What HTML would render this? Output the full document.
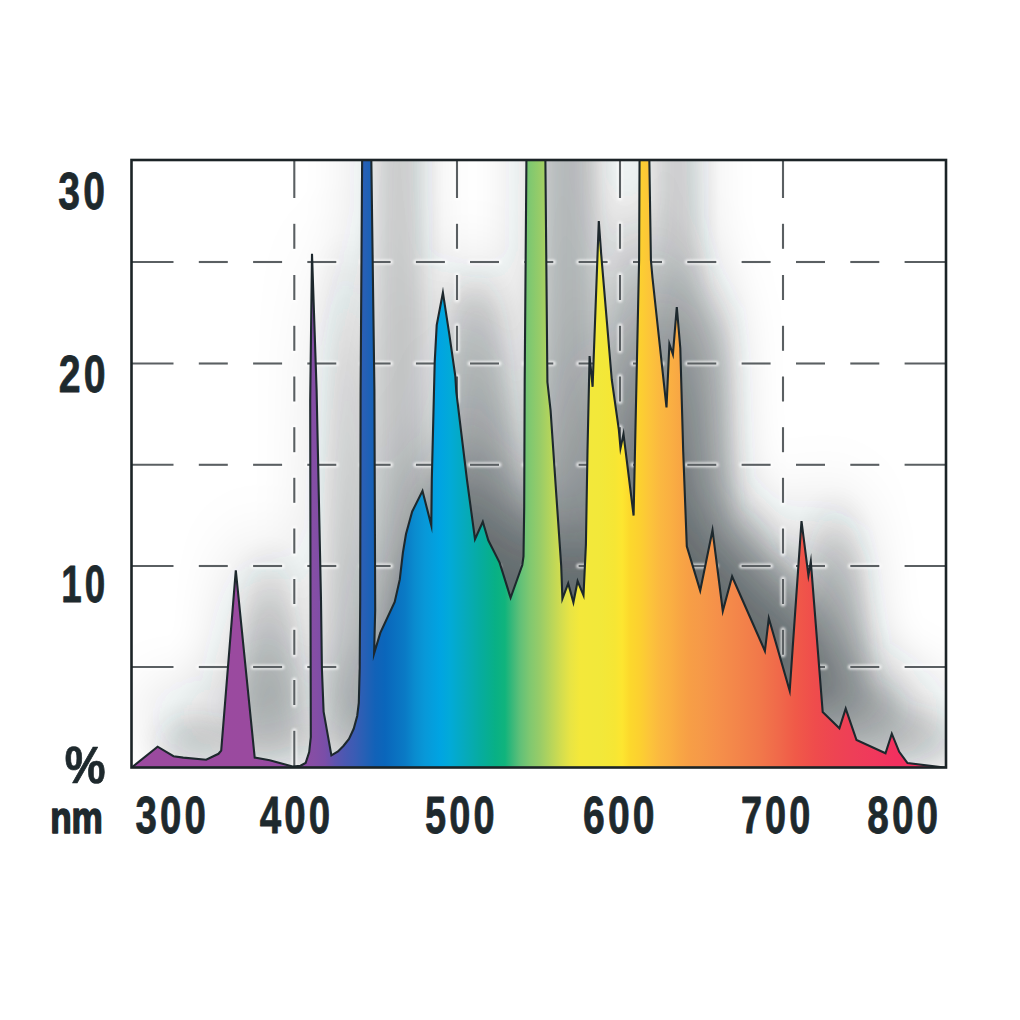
<!DOCTYPE html>
<html><head><meta charset="utf-8"><style>
html,body{margin:0;padding:0;background:#fff;}
body{width:1020px;height:1020px;overflow:hidden;}
svg{display:block;}
text{font-family:"Liberation Sans",sans-serif;font-weight:bold;fill:#1e292d;}
</style></head><body>
<svg width="1020" height="1020" viewBox="0 0 1020 1020">
<defs>
<linearGradient id="spec" gradientUnits="userSpaceOnUse" x1="131" y1="0" x2="946" y2="0">
<stop offset="0.0000" stop-color="#9b4a9f"/>
<stop offset="0.1460" stop-color="#9a4a9f"/>
<stop offset="0.2074" stop-color="#8e4ca3"/>
<stop offset="0.2258" stop-color="#844ea5"/>
<stop offset="0.2380" stop-color="#7a4ea8"/>
<stop offset="0.2503" stop-color="#5e54ae"/>
<stop offset="0.2626" stop-color="#4a58b2"/>
<stop offset="0.2748" stop-color="#3a5cb4"/>
<stop offset="0.2871" stop-color="#2660b5"/>
<stop offset="0.2994" stop-color="#1262b8"/>
<stop offset="0.3117" stop-color="#0a66bb"/>
<stop offset="0.3239" stop-color="#0a70c0"/>
<stop offset="0.3362" stop-color="#0a7ac5"/>
<stop offset="0.3485" stop-color="#0a8ccf"/>
<stop offset="0.3607" stop-color="#0898d8"/>
<stop offset="0.3791" stop-color="#00a4e2"/>
<stop offset="0.3914" stop-color="#02aad8"/>
<stop offset="0.4098" stop-color="#06aabc"/>
<stop offset="0.4282" stop-color="#06aca0"/>
<stop offset="0.4466" stop-color="#08b086"/>
<stop offset="0.4589" stop-color="#10b47c"/>
<stop offset="0.4675" stop-color="#38b87a"/>
<stop offset="0.4773" stop-color="#60c078"/>
<stop offset="0.4896" stop-color="#80c870"/>
<stop offset="0.5018" stop-color="#98cc68"/>
<stop offset="0.5141" stop-color="#b4d45c"/>
<stop offset="0.5264" stop-color="#d0dc50"/>
<stop offset="0.5387" stop-color="#e8e444"/>
<stop offset="0.5509" stop-color="#f4e83a"/>
<stop offset="0.5755" stop-color="#f2e83a"/>
<stop offset="0.5939" stop-color="#f6e634"/>
<stop offset="0.6025" stop-color="#fde630"/>
<stop offset="0.6123" stop-color="#fcd82c"/>
<stop offset="0.6245" stop-color="#fcd030"/>
<stop offset="0.6368" stop-color="#fcc43a"/>
<stop offset="0.6491" stop-color="#fbb840"/>
<stop offset="0.6613" stop-color="#fab042"/>
<stop offset="0.6736" stop-color="#f8a644"/>
<stop offset="0.6859" stop-color="#f79e46"/>
<stop offset="0.6982" stop-color="#f69a48"/>
<stop offset="0.7227" stop-color="#f58f4a"/>
<stop offset="0.7472" stop-color="#f3844a"/>
<stop offset="0.7718" stop-color="#f1784a"/>
<stop offset="0.7963" stop-color="#f0684a"/>
<stop offset="0.8147" stop-color="#f05a48"/>
<stop offset="0.8393" stop-color="#ef4c4c"/>
<stop offset="0.8638" stop-color="#ee4452"/>
<stop offset="0.8883" stop-color="#ee3e58"/>
<stop offset="0.9129" stop-color="#f0385c"/>
<stop offset="0.9374" stop-color="#f2305f"/>
<stop offset="1.0000" stop-color="#f2305f"/>
</linearGradient>
<clipPath id="box"><rect x="131.5" y="160" width="814.5" height="607.5"/></clipPath>
<filter id="sh0" filterUnits="userSpaceOnUse" x="0" y="0" width="1020" height="1020"><feGaussianBlur stdDeviation="33.2"/><feComponentTransfer><feFuncA type="linear" slope="1"/></feComponentTransfer></filter>
<filter id="sh1" filterUnits="userSpaceOnUse" x="0" y="0" width="1020" height="1020"><feGaussianBlur stdDeviation="16.75"/><feComponentTransfer><feFuncA type="table" tableValues="0.0000 0.0266 0.0504 0.0718 0.0910 0.1082 0.1236 0.1375 0.1499 0.1610 0.1710 0.1800 0.1880 0.1952 0.2017 0.2075 0.2127 0.2173 0.2215 0.2253 0.2286 0.2317 0.2344 0.2368 0.2390 0.2409 0.2427 0.2443 0.2457 0.2469 0.2481 0.2491 0.2500"/></feComponentTransfer></filter>
<filter id="halo" x="-5%" y="-5%" width="110%" height="110%"><feGaussianBlur stdDeviation="1.3"/></filter>
</defs>
<rect width="1020" height="1020" fill="#fff"/>
<g clip-path="url(#box)">
<path d="M155.2,723.3 L156.6,722.3 L181.3,702.5 L197.2,712.0 L206.9,713.4 L229.9,715.6 L242.2,709.6 L244.9,706.4 L259.5,526.1 L278.4,713.4 L293.4,716.1 L316.3,722.3 L324.2,721.5 L329.3,718.8 L332.9,707.8 L334.5,692.8 L334.2,555.8 L333.9,355.8 L335.7,209.6 L340.3,345.8 L344.7,555.8 L345.6,624.5 L347.3,667.4 L355.1,711.2 L361.7,707.3 L367.1,701.8 L372.7,694.8 L377.4,684.6 L380.9,671.8 L382.5,658.8 L383.4,624.5 L383.9,555.8 L384.3,345.8 L385.9,-344.2 L394.9,-344.2 L398.1,345.8 L398.9,565.8 L397.8,609.3 L404.0,588.7 L418.4,557.8 L423.5,535.2 L426.6,508.4 L429.7,489.8 L435.9,467.3 L446.2,446.7 L455.0,481.2 L455.5,435.8 L458.4,318.2 L460.4,280.9 L466.6,248.5 L473.1,290.7 L479.0,331.8 L480.0,347.6 L490.7,435.8 L498.7,495.0 L506.5,477.5 L512.0,496.1 L523.4,518.7 L534.3,553.6 L546.0,520.8 L547.2,512.3 L547.9,462.8 L548.4,335.8 L550.2,-344.2 L569.0,-344.2 L571.1,337.8 L574.3,366.4 L580.2,453.4 L584.9,521.7 L586.1,554.6 L591.9,539.3 L597.1,558.2 L601.3,537.0 L607.2,551.1 L609.6,500.5 L611.2,406.4 L613.3,311.8 L616.3,342.6 L622.5,176.8 L624.9,210.1 L635.5,335.8 L642.5,385.2 L644.2,404.0 L647.2,389.8 L657.3,471.3 L662.8,215.8 L663.3,-344.2 L672.9,-344.2 L674.6,215.8 L676.1,232.8 L690.2,363.3 L693.1,299.8 L696.6,310.1 L700.5,262.8 L704.0,304.0 L706.9,407.0 L710.5,502.2 L723.9,546.4 L736.2,486.0 L746.5,566.8 L755.8,532.3 L788.6,606.8 L792.5,574.0 L813.4,646.6 L825.2,476.9 L832.1,531.3 L834.5,517.3 L846.4,667.8 L863.1,684.0 L869.4,664.4 L880.2,695.8 L909.2,709.1 L915.5,689.5 L922.9,707.6 L931.2,718.9 L968.0,723.3 L969.7,723.8 L969.7,724.8 L155.2,724.8 Z" fill="#2c3438" fill-opacity="0.66" filter="url(#sh0)"/>
<path d="M164.6,749.5 L166.0,748.5 L190.7,728.7 L206.6,738.2 L216.3,739.6 L239.3,741.8 L251.6,735.8 L254.3,732.6 L268.9,552.3 L287.8,739.6 L302.8,742.3 L325.7,748.5 L333.6,747.7 L338.7,745.0 L342.3,734.0 L343.9,719.0 L343.6,582.0 L343.3,382.0 L345.1,235.8 L349.7,372.0 L354.1,582.0 L355.0,650.7 L356.7,693.6 L364.5,737.4 L371.1,733.5 L376.5,728.0 L382.1,721.0 L386.8,710.8 L390.3,698.0 L391.9,685.0 L392.8,650.7 L393.3,582.0 L393.7,372.0 L395.3,-318.0 L404.3,-318.0 L407.5,372.0 L408.3,592.0 L407.2,635.5 L413.4,614.9 L427.8,584.0 L432.9,561.4 L436.0,534.6 L439.1,516.0 L445.3,493.5 L455.6,472.9 L464.4,507.4 L464.9,462.0 L467.8,344.4 L469.8,307.1 L476.0,274.7 L482.5,316.9 L488.4,358.0 L489.4,373.8 L500.1,462.0 L508.1,521.2 L515.9,503.7 L521.4,522.3 L532.8,544.9 L543.7,579.8 L555.4,547.0 L556.6,538.5 L557.3,489.0 L557.8,362.0 L559.6,-318.0 L578.4,-318.0 L580.5,364.0 L583.7,392.6 L589.6,479.6 L594.3,547.9 L595.5,580.8 L601.3,565.5 L606.5,584.4 L610.7,563.2 L616.6,577.3 L619.0,526.7 L620.6,432.6 L622.7,338.0 L625.7,368.8 L631.9,203.0 L634.3,236.3 L644.9,362.0 L651.9,411.4 L653.6,430.2 L656.6,416.0 L666.7,497.5 L672.2,242.0 L672.7,-318.0 L682.3,-318.0 L684.0,242.0 L685.5,259.0 L699.6,389.5 L702.5,326.0 L706.0,336.3 L709.9,289.0 L713.4,330.2 L716.3,433.2 L719.9,528.4 L733.3,572.6 L745.6,512.2 L755.9,593.0 L765.2,558.5 L798.0,633.0 L801.9,600.2 L822.8,672.8 L834.6,503.1 L841.5,557.5 L843.9,543.5 L855.8,694.0 L872.5,710.2 L878.8,690.6 L889.6,722.0 L918.6,735.3 L924.9,715.7 L932.3,733.8 L940.6,745.1 L977.4,749.5 L979.1,750.0 L979.1,751.0 L164.6,751.0 Z" fill="#2c3438" fill-opacity="1" filter="url(#sh1)"/>
</g>
<g clip-path="url(#box)"><g stroke="#fff" stroke-width="5.0" stroke-linecap="round" stroke-opacity="0.7" filter="url(#halo)">
<line x1="131.5" y1="262" x2="173.5" y2="262"/>
<line x1="198.8" y1="262" x2="227.8" y2="262"/>
<line x1="253.1" y1="262" x2="282.1" y2="262"/>
<line x1="307.3" y1="262" x2="336.3" y2="262"/>
<line x1="361.6" y1="262" x2="390.6" y2="262"/>
<line x1="415.9" y1="262" x2="444.9" y2="262"/>
<line x1="470.0" y1="262" x2="499.0" y2="262"/>
<line x1="524.3" y1="262" x2="553.3" y2="262"/>
<line x1="578.6" y1="262" x2="607.6" y2="262"/>
<line x1="633.0" y1="262" x2="662.0" y2="262"/>
<line x1="687.3" y1="262" x2="716.3" y2="262"/>
<line x1="741.6" y1="262" x2="770.6" y2="262"/>
<line x1="796.0" y1="262" x2="825.0" y2="262"/>
<line x1="850.3" y1="262" x2="879.3" y2="262"/>
<line x1="904.6" y1="262" x2="946.0" y2="262"/>
<line x1="131.5" y1="363.5" x2="173.5" y2="363.5"/>
<line x1="198.8" y1="363.5" x2="227.8" y2="363.5"/>
<line x1="253.1" y1="363.5" x2="282.1" y2="363.5"/>
<line x1="307.3" y1="363.5" x2="336.3" y2="363.5"/>
<line x1="361.6" y1="363.5" x2="390.6" y2="363.5"/>
<line x1="415.9" y1="363.5" x2="444.9" y2="363.5"/>
<line x1="470.0" y1="363.5" x2="499.0" y2="363.5"/>
<line x1="524.3" y1="363.5" x2="553.3" y2="363.5"/>
<line x1="578.6" y1="363.5" x2="607.6" y2="363.5"/>
<line x1="633.0" y1="363.5" x2="662.0" y2="363.5"/>
<line x1="687.3" y1="363.5" x2="716.3" y2="363.5"/>
<line x1="741.6" y1="363.5" x2="770.6" y2="363.5"/>
<line x1="796.0" y1="363.5" x2="825.0" y2="363.5"/>
<line x1="850.3" y1="363.5" x2="879.3" y2="363.5"/>
<line x1="904.6" y1="363.5" x2="946.0" y2="363.5"/>
<line x1="131.5" y1="464.8" x2="173.5" y2="464.8"/>
<line x1="198.8" y1="464.8" x2="227.8" y2="464.8"/>
<line x1="253.1" y1="464.8" x2="282.1" y2="464.8"/>
<line x1="307.3" y1="464.8" x2="336.3" y2="464.8"/>
<line x1="361.6" y1="464.8" x2="390.6" y2="464.8"/>
<line x1="415.9" y1="464.8" x2="444.9" y2="464.8"/>
<line x1="470.0" y1="464.8" x2="499.0" y2="464.8"/>
<line x1="524.3" y1="464.8" x2="553.3" y2="464.8"/>
<line x1="578.6" y1="464.8" x2="607.6" y2="464.8"/>
<line x1="633.0" y1="464.8" x2="662.0" y2="464.8"/>
<line x1="687.3" y1="464.8" x2="716.3" y2="464.8"/>
<line x1="741.6" y1="464.8" x2="770.6" y2="464.8"/>
<line x1="796.0" y1="464.8" x2="825.0" y2="464.8"/>
<line x1="850.3" y1="464.8" x2="879.3" y2="464.8"/>
<line x1="904.6" y1="464.8" x2="946.0" y2="464.8"/>
<line x1="131.5" y1="566" x2="173.5" y2="566"/>
<line x1="198.8" y1="566" x2="227.8" y2="566"/>
<line x1="253.1" y1="566" x2="282.1" y2="566"/>
<line x1="307.3" y1="566" x2="336.3" y2="566"/>
<line x1="361.6" y1="566" x2="390.6" y2="566"/>
<line x1="415.9" y1="566" x2="444.9" y2="566"/>
<line x1="470.0" y1="566" x2="499.0" y2="566"/>
<line x1="524.3" y1="566" x2="553.3" y2="566"/>
<line x1="578.6" y1="566" x2="607.6" y2="566"/>
<line x1="633.0" y1="566" x2="662.0" y2="566"/>
<line x1="687.3" y1="566" x2="716.3" y2="566"/>
<line x1="741.6" y1="566" x2="770.6" y2="566"/>
<line x1="796.0" y1="566" x2="825.0" y2="566"/>
<line x1="850.3" y1="566" x2="879.3" y2="566"/>
<line x1="904.6" y1="566" x2="946.0" y2="566"/>
<line x1="131.5" y1="667" x2="173.5" y2="667"/>
<line x1="198.8" y1="667" x2="227.8" y2="667"/>
<line x1="253.1" y1="667" x2="282.1" y2="667"/>
<line x1="307.3" y1="667" x2="336.3" y2="667"/>
<line x1="361.6" y1="667" x2="390.6" y2="667"/>
<line x1="415.9" y1="667" x2="444.9" y2="667"/>
<line x1="470.0" y1="667" x2="499.0" y2="667"/>
<line x1="524.3" y1="667" x2="553.3" y2="667"/>
<line x1="578.6" y1="667" x2="607.6" y2="667"/>
<line x1="633.0" y1="667" x2="662.0" y2="667"/>
<line x1="687.3" y1="667" x2="716.3" y2="667"/>
<line x1="741.6" y1="667" x2="770.6" y2="667"/>
<line x1="796.0" y1="667" x2="825.0" y2="667"/>
<line x1="850.3" y1="667" x2="879.3" y2="667"/>
<line x1="904.6" y1="667" x2="946.0" y2="667"/>
<line x1="294.3" y1="160.0" x2="294.3" y2="198.0"/>
<line x1="294.3" y1="223.8" x2="294.3" y2="248.8"/>
<line x1="294.3" y1="275.0" x2="294.3" y2="300.0"/>
<line x1="294.3" y1="325.8" x2="294.3" y2="350.8"/>
<line x1="294.3" y1="376.5" x2="294.3" y2="401.5"/>
<line x1="294.3" y1="427.2" x2="294.3" y2="452.2"/>
<line x1="294.3" y1="477.8" x2="294.3" y2="502.8"/>
<line x1="294.3" y1="528.5" x2="294.3" y2="553.5"/>
<line x1="294.3" y1="579.0" x2="294.3" y2="604.0"/>
<line x1="294.3" y1="629.8" x2="294.3" y2="654.8"/>
<line x1="294.3" y1="680.0" x2="294.3" y2="705.0"/>
<line x1="294.3" y1="730.8" x2="294.3" y2="767.5"/>
<line x1="457" y1="160.0" x2="457" y2="198.0"/>
<line x1="457" y1="223.8" x2="457" y2="248.8"/>
<line x1="457" y1="275.0" x2="457" y2="300.0"/>
<line x1="457" y1="325.8" x2="457" y2="350.8"/>
<line x1="457" y1="376.5" x2="457" y2="401.5"/>
<line x1="457" y1="427.2" x2="457" y2="452.2"/>
<line x1="457" y1="477.8" x2="457" y2="502.8"/>
<line x1="457" y1="528.5" x2="457" y2="553.5"/>
<line x1="457" y1="579.0" x2="457" y2="604.0"/>
<line x1="457" y1="629.8" x2="457" y2="654.8"/>
<line x1="457" y1="680.0" x2="457" y2="705.0"/>
<line x1="457" y1="730.8" x2="457" y2="767.5"/>
<line x1="620" y1="160.0" x2="620" y2="198.0"/>
<line x1="620" y1="223.8" x2="620" y2="248.8"/>
<line x1="620" y1="275.0" x2="620" y2="300.0"/>
<line x1="620" y1="325.8" x2="620" y2="350.8"/>
<line x1="620" y1="376.5" x2="620" y2="401.5"/>
<line x1="620" y1="427.2" x2="620" y2="452.2"/>
<line x1="620" y1="477.8" x2="620" y2="502.8"/>
<line x1="620" y1="528.5" x2="620" y2="553.5"/>
<line x1="620" y1="579.0" x2="620" y2="604.0"/>
<line x1="620" y1="629.8" x2="620" y2="654.8"/>
<line x1="620" y1="680.0" x2="620" y2="705.0"/>
<line x1="620" y1="730.8" x2="620" y2="767.5"/>
<line x1="783" y1="160.0" x2="783" y2="198.0"/>
<line x1="783" y1="223.8" x2="783" y2="248.8"/>
<line x1="783" y1="275.0" x2="783" y2="300.0"/>
<line x1="783" y1="325.8" x2="783" y2="350.8"/>
<line x1="783" y1="376.5" x2="783" y2="401.5"/>
<line x1="783" y1="427.2" x2="783" y2="452.2"/>
<line x1="783" y1="477.8" x2="783" y2="502.8"/>
<line x1="783" y1="528.5" x2="783" y2="553.5"/>
<line x1="783" y1="579.0" x2="783" y2="604.0"/>
<line x1="783" y1="629.8" x2="783" y2="654.8"/>
<line x1="783" y1="680.0" x2="783" y2="705.0"/>
<line x1="783" y1="730.8" x2="783" y2="767.5"/>
</g></g>
<g stroke="#5a5f62" stroke-width="2.1">
<line x1="131.5" y1="262" x2="173.5" y2="262"/>
<line x1="198.8" y1="262" x2="227.8" y2="262"/>
<line x1="253.1" y1="262" x2="282.1" y2="262"/>
<line x1="307.3" y1="262" x2="336.3" y2="262"/>
<line x1="361.6" y1="262" x2="390.6" y2="262"/>
<line x1="415.9" y1="262" x2="444.9" y2="262"/>
<line x1="470.0" y1="262" x2="499.0" y2="262"/>
<line x1="524.3" y1="262" x2="553.3" y2="262"/>
<line x1="578.6" y1="262" x2="607.6" y2="262"/>
<line x1="633.0" y1="262" x2="662.0" y2="262"/>
<line x1="687.3" y1="262" x2="716.3" y2="262"/>
<line x1="741.6" y1="262" x2="770.6" y2="262"/>
<line x1="796.0" y1="262" x2="825.0" y2="262"/>
<line x1="850.3" y1="262" x2="879.3" y2="262"/>
<line x1="904.6" y1="262" x2="946.0" y2="262"/>
<line x1="131.5" y1="363.5" x2="173.5" y2="363.5"/>
<line x1="198.8" y1="363.5" x2="227.8" y2="363.5"/>
<line x1="253.1" y1="363.5" x2="282.1" y2="363.5"/>
<line x1="307.3" y1="363.5" x2="336.3" y2="363.5"/>
<line x1="361.6" y1="363.5" x2="390.6" y2="363.5"/>
<line x1="415.9" y1="363.5" x2="444.9" y2="363.5"/>
<line x1="470.0" y1="363.5" x2="499.0" y2="363.5"/>
<line x1="524.3" y1="363.5" x2="553.3" y2="363.5"/>
<line x1="578.6" y1="363.5" x2="607.6" y2="363.5"/>
<line x1="633.0" y1="363.5" x2="662.0" y2="363.5"/>
<line x1="687.3" y1="363.5" x2="716.3" y2="363.5"/>
<line x1="741.6" y1="363.5" x2="770.6" y2="363.5"/>
<line x1="796.0" y1="363.5" x2="825.0" y2="363.5"/>
<line x1="850.3" y1="363.5" x2="879.3" y2="363.5"/>
<line x1="904.6" y1="363.5" x2="946.0" y2="363.5"/>
<line x1="131.5" y1="464.8" x2="173.5" y2="464.8"/>
<line x1="198.8" y1="464.8" x2="227.8" y2="464.8"/>
<line x1="253.1" y1="464.8" x2="282.1" y2="464.8"/>
<line x1="307.3" y1="464.8" x2="336.3" y2="464.8"/>
<line x1="361.6" y1="464.8" x2="390.6" y2="464.8"/>
<line x1="415.9" y1="464.8" x2="444.9" y2="464.8"/>
<line x1="470.0" y1="464.8" x2="499.0" y2="464.8"/>
<line x1="524.3" y1="464.8" x2="553.3" y2="464.8"/>
<line x1="578.6" y1="464.8" x2="607.6" y2="464.8"/>
<line x1="633.0" y1="464.8" x2="662.0" y2="464.8"/>
<line x1="687.3" y1="464.8" x2="716.3" y2="464.8"/>
<line x1="741.6" y1="464.8" x2="770.6" y2="464.8"/>
<line x1="796.0" y1="464.8" x2="825.0" y2="464.8"/>
<line x1="850.3" y1="464.8" x2="879.3" y2="464.8"/>
<line x1="904.6" y1="464.8" x2="946.0" y2="464.8"/>
<line x1="131.5" y1="566" x2="173.5" y2="566"/>
<line x1="198.8" y1="566" x2="227.8" y2="566"/>
<line x1="253.1" y1="566" x2="282.1" y2="566"/>
<line x1="307.3" y1="566" x2="336.3" y2="566"/>
<line x1="361.6" y1="566" x2="390.6" y2="566"/>
<line x1="415.9" y1="566" x2="444.9" y2="566"/>
<line x1="470.0" y1="566" x2="499.0" y2="566"/>
<line x1="524.3" y1="566" x2="553.3" y2="566"/>
<line x1="578.6" y1="566" x2="607.6" y2="566"/>
<line x1="633.0" y1="566" x2="662.0" y2="566"/>
<line x1="687.3" y1="566" x2="716.3" y2="566"/>
<line x1="741.6" y1="566" x2="770.6" y2="566"/>
<line x1="796.0" y1="566" x2="825.0" y2="566"/>
<line x1="850.3" y1="566" x2="879.3" y2="566"/>
<line x1="904.6" y1="566" x2="946.0" y2="566"/>
<line x1="131.5" y1="667" x2="173.5" y2="667"/>
<line x1="198.8" y1="667" x2="227.8" y2="667"/>
<line x1="253.1" y1="667" x2="282.1" y2="667"/>
<line x1="307.3" y1="667" x2="336.3" y2="667"/>
<line x1="361.6" y1="667" x2="390.6" y2="667"/>
<line x1="415.9" y1="667" x2="444.9" y2="667"/>
<line x1="470.0" y1="667" x2="499.0" y2="667"/>
<line x1="524.3" y1="667" x2="553.3" y2="667"/>
<line x1="578.6" y1="667" x2="607.6" y2="667"/>
<line x1="633.0" y1="667" x2="662.0" y2="667"/>
<line x1="687.3" y1="667" x2="716.3" y2="667"/>
<line x1="741.6" y1="667" x2="770.6" y2="667"/>
<line x1="796.0" y1="667" x2="825.0" y2="667"/>
<line x1="850.3" y1="667" x2="879.3" y2="667"/>
<line x1="904.6" y1="667" x2="946.0" y2="667"/>
<line x1="294.3" y1="160.0" x2="294.3" y2="198.0"/>
<line x1="294.3" y1="223.8" x2="294.3" y2="248.8"/>
<line x1="294.3" y1="275.0" x2="294.3" y2="300.0"/>
<line x1="294.3" y1="325.8" x2="294.3" y2="350.8"/>
<line x1="294.3" y1="376.5" x2="294.3" y2="401.5"/>
<line x1="294.3" y1="427.2" x2="294.3" y2="452.2"/>
<line x1="294.3" y1="477.8" x2="294.3" y2="502.8"/>
<line x1="294.3" y1="528.5" x2="294.3" y2="553.5"/>
<line x1="294.3" y1="579.0" x2="294.3" y2="604.0"/>
<line x1="294.3" y1="629.8" x2="294.3" y2="654.8"/>
<line x1="294.3" y1="680.0" x2="294.3" y2="705.0"/>
<line x1="294.3" y1="730.8" x2="294.3" y2="767.5"/>
<line x1="457" y1="160.0" x2="457" y2="198.0"/>
<line x1="457" y1="223.8" x2="457" y2="248.8"/>
<line x1="457" y1="275.0" x2="457" y2="300.0"/>
<line x1="457" y1="325.8" x2="457" y2="350.8"/>
<line x1="457" y1="376.5" x2="457" y2="401.5"/>
<line x1="457" y1="427.2" x2="457" y2="452.2"/>
<line x1="457" y1="477.8" x2="457" y2="502.8"/>
<line x1="457" y1="528.5" x2="457" y2="553.5"/>
<line x1="457" y1="579.0" x2="457" y2="604.0"/>
<line x1="457" y1="629.8" x2="457" y2="654.8"/>
<line x1="457" y1="680.0" x2="457" y2="705.0"/>
<line x1="457" y1="730.8" x2="457" y2="767.5"/>
<line x1="620" y1="160.0" x2="620" y2="198.0"/>
<line x1="620" y1="223.8" x2="620" y2="248.8"/>
<line x1="620" y1="275.0" x2="620" y2="300.0"/>
<line x1="620" y1="325.8" x2="620" y2="350.8"/>
<line x1="620" y1="376.5" x2="620" y2="401.5"/>
<line x1="620" y1="427.2" x2="620" y2="452.2"/>
<line x1="620" y1="477.8" x2="620" y2="502.8"/>
<line x1="620" y1="528.5" x2="620" y2="553.5"/>
<line x1="620" y1="579.0" x2="620" y2="604.0"/>
<line x1="620" y1="629.8" x2="620" y2="654.8"/>
<line x1="620" y1="680.0" x2="620" y2="705.0"/>
<line x1="620" y1="730.8" x2="620" y2="767.5"/>
<line x1="783" y1="160.0" x2="783" y2="198.0"/>
<line x1="783" y1="223.8" x2="783" y2="248.8"/>
<line x1="783" y1="275.0" x2="783" y2="300.0"/>
<line x1="783" y1="325.8" x2="783" y2="350.8"/>
<line x1="783" y1="376.5" x2="783" y2="401.5"/>
<line x1="783" y1="427.2" x2="783" y2="452.2"/>
<line x1="783" y1="477.8" x2="783" y2="502.8"/>
<line x1="783" y1="528.5" x2="783" y2="553.5"/>
<line x1="783" y1="579.0" x2="783" y2="604.0"/>
<line x1="783" y1="629.8" x2="783" y2="654.8"/>
<line x1="783" y1="680.0" x2="783" y2="705.0"/>
<line x1="783" y1="730.8" x2="783" y2="767.5"/>
</g>
<g clip-path="url(#box)">
<path d="M131.5,767.5 L132.9,766.5 L157.6,746.7 L173.5,756.2 L183.2,757.6 L206.2,759.8 L218.5,753.8 L221.2,750.6 L235.8,570.3 L254.7,757.6 L269.7,760.3 L292.6,766.5 L300.5,765.7 L305.6,763.0 L309.2,752.0 L310.8,737.0 L310.5,600.0 L310.2,400.0 L312.0,253.8 L316.6,390.0 L321.0,600.0 L321.9,668.7 L323.6,711.6 L331.4,755.4 L338.0,751.5 L343.4,746.0 L349.0,739.0 L353.7,728.8 L357.2,716.0 L358.8,703.0 L359.7,668.7 L360.2,600.0 L360.6,390.0 L362.2,150.0 L371.2,150.0 L374.4,390.0 L375.2,610.0 L374.1,653.5 L380.3,632.9 L394.7,602.0 L399.8,579.4 L402.9,552.6 L406.0,534.0 L412.2,511.5 L422.5,490.9 L431.3,525.4 L431.8,480.0 L434.7,362.4 L436.7,325.1 L442.9,292.7 L449.4,334.9 L455.3,376.0 L456.3,391.8 L467.0,480.0 L475.0,539.2 L482.8,521.7 L488.3,540.3 L499.7,562.9 L510.6,597.8 L522.3,565.0 L523.5,556.5 L524.2,507.0 L524.7,380.0 L526.5,150.0 L545.3,150.0 L547.4,382.0 L550.6,410.6 L556.5,497.6 L561.2,565.9 L562.4,598.8 L568.2,583.5 L573.4,602.4 L577.6,581.2 L583.5,595.3 L585.9,544.7 L587.5,450.6 L589.6,356.0 L592.6,386.8 L598.8,221.0 L601.2,254.3 L611.8,380.0 L618.8,429.4 L620.5,448.2 L623.5,434.0 L633.6,515.5 L639.1,260.0 L639.6,150.0 L649.2,150.0 L650.9,260.0 L652.4,277.0 L666.5,407.5 L669.4,344.0 L672.9,354.3 L676.8,307.0 L680.3,348.2 L683.2,451.2 L686.8,546.4 L700.2,590.6 L712.5,530.2 L722.8,611.0 L732.1,576.5 L764.9,651.0 L768.8,618.2 L789.7,690.8 L801.5,521.1 L808.4,575.5 L810.8,561.5 L822.7,712.0 L839.4,728.2 L845.7,708.6 L856.5,740.0 L885.5,753.3 L891.8,733.7 L899.2,751.8 L907.5,763.1 L944.3,767.5 L946.0,768.0 L946.0,769.0 L131.5,769.0 Z" fill="url(#spec)"/>
<path d="M131.5,767.5 L132.9,766.5 L157.6,746.7 L173.5,756.2 L183.2,757.6 L206.2,759.8 L218.5,753.8 L221.2,750.6 L235.8,570.3 L254.7,757.6 L269.7,760.3 L292.6,766.5 L300.5,765.7 L305.6,763.0 L309.2,752.0 L310.8,737.0 L310.5,600.0 L310.2,400.0 L312.0,253.8 L316.6,390.0 L321.0,600.0 L321.9,668.7 L323.6,711.6 L331.4,755.4 L338.0,751.5 L343.4,746.0 L349.0,739.0 L353.7,728.8 L357.2,716.0 L358.8,703.0 L359.7,668.7 L360.2,600.0 L360.6,390.0 L362.2,150.0 L371.2,150.0 L374.4,390.0 L375.2,610.0 L374.1,653.5 L380.3,632.9 L394.7,602.0 L399.8,579.4 L402.9,552.6 L406.0,534.0 L412.2,511.5 L422.5,490.9 L431.3,525.4 L431.8,480.0 L434.7,362.4 L436.7,325.1 L442.9,292.7 L449.4,334.9 L455.3,376.0 L456.3,391.8 L467.0,480.0 L475.0,539.2 L482.8,521.7 L488.3,540.3 L499.7,562.9 L510.6,597.8 L522.3,565.0 L523.5,556.5 L524.2,507.0 L524.7,380.0 L526.5,150.0 L545.3,150.0 L547.4,382.0 L550.6,410.6 L556.5,497.6 L561.2,565.9 L562.4,598.8 L568.2,583.5 L573.4,602.4 L577.6,581.2 L583.5,595.3 L585.9,544.7 L587.5,450.6 L589.6,356.0 L592.6,386.8 L598.8,221.0 L601.2,254.3 L611.8,380.0 L618.8,429.4 L620.5,448.2 L623.5,434.0 L633.6,515.5 L639.1,260.0 L639.6,150.0 L649.2,150.0 L650.9,260.0 L652.4,277.0 L666.5,407.5 L669.4,344.0 L672.9,354.3 L676.8,307.0 L680.3,348.2 L683.2,451.2 L686.8,546.4 L700.2,590.6 L712.5,530.2 L722.8,611.0 L732.1,576.5 L764.9,651.0 L768.8,618.2 L789.7,690.8 L801.5,521.1 L808.4,575.5 L810.8,561.5 L822.7,712.0 L839.4,728.2 L845.7,708.6 L856.5,740.0 L885.5,753.3 L891.8,733.7 L899.2,751.8 L907.5,763.1 L944.3,767.5 L946.0,768.0" fill="none" stroke="#1d282d" stroke-width="2.1" stroke-linejoin="miter" stroke-miterlimit="10"/>
</g>
<rect x="131.5" y="160" width="814.5" height="607.5" fill="none" stroke="#1b2326" stroke-width="2.6"/>
<text transform="translate(58.37,208.93) scale(0.3912,0.5155)" font-size="100" letter-spacing="8" stroke="#1e292d" stroke-width="0.7" vector-effect="non-scaling-stroke" stroke-linejoin="round">30</text>
<text transform="translate(58.77,392.43) scale(0.3929,0.5197)" font-size="100" letter-spacing="8" stroke="#1e292d" stroke-width="0.7" vector-effect="non-scaling-stroke" stroke-linejoin="round">20</text>
<text transform="translate(61.24,601.64) scale(0.3679,0.5099)" font-size="100" letter-spacing="8" stroke="#1e292d" stroke-width="0.7" vector-effect="non-scaling-stroke" stroke-linejoin="round">10</text>
<text transform="translate(64.87,783.24) scale(0.4590,0.5143)" font-size="100" letter-spacing="0" stroke="#1e292d" stroke-width="0.7" vector-effect="non-scaling-stroke" stroke-linejoin="round">%</text>
<text transform="translate(50.14,833.00) scale(0.3518,0.4444)" font-size="100" letter-spacing="0" stroke="#1e292d" stroke-width="1.4" vector-effect="non-scaling-stroke" stroke-linejoin="round">nm</text>
<text transform="translate(135.58,833.24) scale(0.3842,0.5141)" font-size="100" letter-spacing="8" stroke="#1e292d" stroke-width="0.7" vector-effect="non-scaling-stroke" stroke-linejoin="round">300</text>
<text transform="translate(259.78,832.54) scale(0.3847,0.5099)" font-size="100" letter-spacing="8" stroke="#1e292d" stroke-width="0.7" vector-effect="non-scaling-stroke" stroke-linejoin="round">400</text>
<text transform="translate(425.11,833.13) scale(0.3795,0.5155)" font-size="100" letter-spacing="8" stroke="#1e292d" stroke-width="0.7" vector-effect="non-scaling-stroke" stroke-linejoin="round">500</text>
<text transform="translate(583.08,833.23) scale(0.3914,0.5169)" font-size="100" letter-spacing="8" stroke="#1e292d" stroke-width="0.7" vector-effect="non-scaling-stroke" stroke-linejoin="round">600</text>
<text transform="translate(740.93,833.13) scale(0.3794,0.5155)" font-size="100" letter-spacing="8" stroke="#1e292d" stroke-width="0.7" vector-effect="non-scaling-stroke" stroke-linejoin="round">700</text>
<text transform="translate(867.29,833.13) scale(0.3875,0.5155)" font-size="100" letter-spacing="8" stroke="#1e292d" stroke-width="0.7" vector-effect="non-scaling-stroke" stroke-linejoin="round">800</text>
</svg>
</body></html>
